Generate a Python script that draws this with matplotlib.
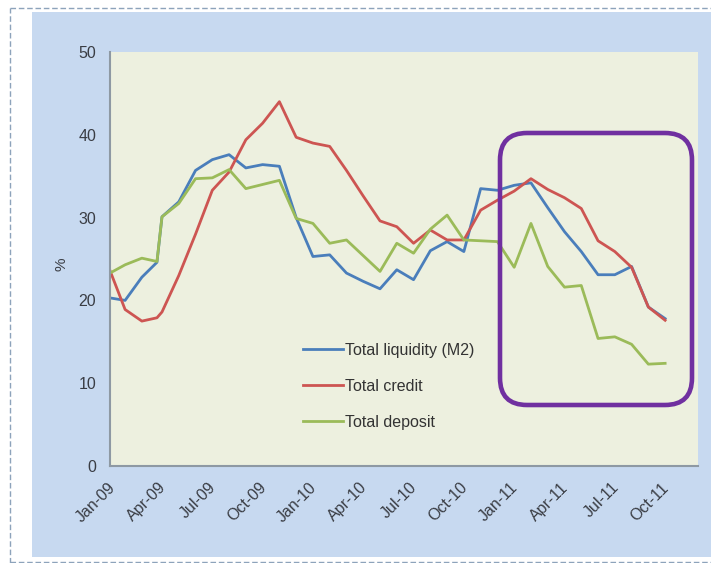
import matplotlib
matplotlib.use("Agg")
import matplotlib.pyplot as plt
from matplotlib.patches import Rectangle, FancyBboxPatch
from matplotlib.lines import Line2D
from matplotlib.transforms import IdentityTransform, ScaledTranslation

# positions of the observations, in months from Jan-09 (the first few are off-grid in the source)
months = [-0.1, 0.8, 1.8, 2.7] + list(range(3, 34))

liquidity = [20.3, 20.0, 22.8, 24.6, 30.1, 31.9, 35.7, 37.0, 37.6, 36.0, 36.4, 36.2,
             30.0, 25.3, 25.5, 23.3, 22.3, 21.4, 23.7, 22.5, 26.0, 27.1, 25.9,
             33.5, 33.3, 33.9, 34.2, 31.2, 28.3, 25.9, 23.1, 23.1, 24.1, 19.2, 17.8]
credit = [23.6, 18.9, 17.5, 17.9, 18.6, 23.0, 28.0, 33.3, 35.5, 39.4, 41.4, 44.0,
          39.7, 39.0, 38.6, 35.7, 32.6, 29.6, 28.9, 26.9, 28.5, 27.3, 27.3,
          30.9, 32.1, 33.2, 34.7, 33.4, 32.4, 31.1, 27.2, 25.9, 24.0, 19.2, 17.6]
deposit = [23.3, 24.3, 25.1, 24.7, 30.1, 31.7, 34.7, 34.8, 35.8, 33.5, 34.0, 34.5,
           29.9, 29.3, 26.9, 27.3, 25.4, 23.5, 26.9, 25.7, 28.6, 30.3, 27.3,
           27.2, 27.1, 24.0, 29.3, 24.1, 21.6, 21.8, 15.4, 15.6, 14.7, 12.3, 12.4]

tick_pos = list(range(0, 34, 3))
tick_labels = ['Jan-09', 'Apr-09', 'Jul-09', 'Oct-09', 'Jan-10', 'Apr-10',
               'Jul-10', 'Oct-10', 'Jan-11', 'Apr-11', 'Jul-11', 'Oct-11']

plt.rcParams['font.family'] = ['Liberation Sans', 'DejaVu Sans']
txt_color = '#3a3d44'

W, H = 711, 563
fig = plt.figure(figsize=(W / 100, H / 100), dpi=100)
fig.patch.set_facecolor('white')

# slide background and dashed frame
fig.patches.append(Rectangle((32, 6), W - 32, H - 18, transform=IdentityTransform(),
                             facecolor='#c7d9f0', edgecolor='none', zorder=-5))
frame_kw = dict(color='#8da3bb', lw=1.0, ls=(0, (4, 2)), transform=IdentityTransform(),
                zorder=-4)
fig.lines.append(Line2D([10, W], [H - 8, H - 8], **frame_kw))
fig.lines.append(Line2D([10, 10], [0, H - 8], **frame_kw))
fig.lines.append(Line2D([10, W], [1, 1], **frame_kw))

ax = fig.add_axes([110 / W, (H - 466) / H, (698 - 110) / W, (466 - 52) / H])
ax.set_facecolor('#edf0df')

ax.plot(months, liquidity, color='#4a7ebb', lw=2.0, label='Total liquidity (M2)')
ax.plot(months, credit, color='#cd5552', lw=2.0, label='Total credit')
ax.plot(months, deposit, color='#9bbb59', lw=2.0, label='Total deposit')

ax.set_xlim(-0.1, 34.96)
ax.set_ylim(0, 50)
ax.set_yticks(range(0, 51, 10))
ax.set_xticks(tick_pos)
ax.set_xticklabels(tick_labels, rotation=45, ha='right', rotation_mode='anchor')
ax.tick_params(axis='both', length=0, labelsize=11.5, labelcolor=txt_color)
ax.tick_params(axis='y', pad=10)
ax.tick_params(axis='x', pad=10)
shift = ScaledTranslation(-4 / 100, 0, fig.dpi_scale_trans)
for lab in ax.get_xticklabels():
    lab.set_transform(lab.get_transform() + shift)

for s in ['top', 'right']:
    ax.spines[s].set_visible(False)
for s in ['left', 'bottom']:
    ax.spines[s].set_color('#8e99a3')
    ax.spines[s].set_linewidth(1.5)

fig.text(62 / W, 1 - 264 / H, '%', rotation=90, ha='center', va='center',
         fontsize=11, color=txt_color)

leg = ax.legend(loc='upper left', bbox_to_anchor=(0.328, 0.298), frameon=False,
                fontsize=11.5, handlelength=2.5, handletextpad=0.12,
                labelspacing=1.32, borderpad=0, borderaxespad=0)
for t in leg.get_texts():
    t.set_color('#333333')

# highlight box around 2011
fig.patches.append(FancyBboxPatch((500, H - 405), 192, 272,
                                  boxstyle='round,pad=0,rounding_size=27',
                                  transform=IdentityTransform(), facecolor='none',
                                  edgecolor='#7030a0', lw=3.3, zorder=5))

fig.savefig('out.png', dpi=100)
